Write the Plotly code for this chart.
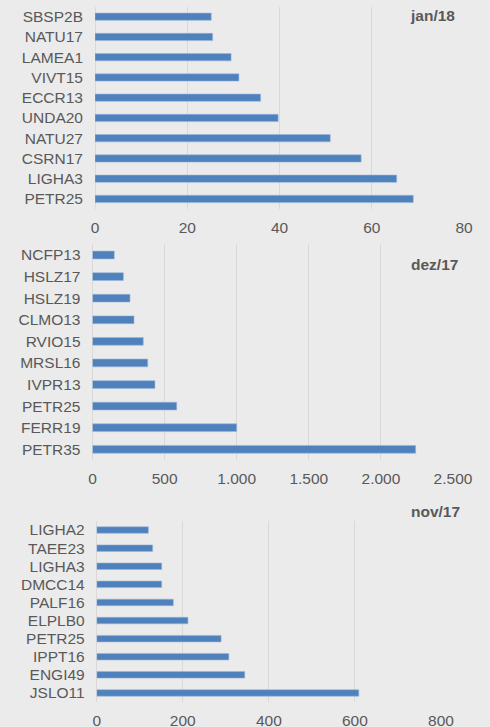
import plotly.graph_objects as go

# Data (bottom-to-top order as drawn)
jan18_names = ["PETR25", "LIGHA3", "CSRN17", "NATU27", "UNDA20", "ECCR13", "VIVT15", "LAMEA1", "NATU17", "SBSP2B"]
jan18_values = [69.0, 65.4, 57.7, 51.0, 39.7, 35.9, 31.2, 29.5, 25.5, 25.2]

dez17_names = ["PETR35", "FERR19", "PETR25", "IVPR13", "MRSL16", "RVIO15", "CLMO13", "HSLZ19", "HSLZ17", "NCFP13"]
dez17_values = [2241, 1000, 584, 433, 383, 352, 288, 260, 214, 151]

nov17_names = ["JSLO11", "ENGI49", "IPPT16", "PETR25", "ELPLB0", "PALF16", "DMCC14", "LIGHA3", "TAEE23", "LIGHA2"]
nov17_values = [609, 344, 307, 289, 212, 178, 151, 151, 130, 120]

titles = ["jan/18", "dez/17", "nov/17"]
x_ranges = [[0, 80], [0, 2500], [0, 800]]
x_dtick = [20, 500, 200]

BAR = "#4f81bd"
TXT = "#595959"
GRID = "#d9d9d9"
BG = "#ebebeb"
FONT = "Liberation Sans, Arial, sans-serif"
FS = 15.5

W, H = 490, 727
# pixel boxes: (left, right, top, bottom)
boxes = [(95, 464, 6.6, 209.1), (92.5, 453, 244.2, 460.1), (96.7, 441, 521, 702)]
title_pos = [(457, 15.7), (460, 264), (461.7, 511.7)]

fig = go.Figure()
series = [(jan18_names, jan18_values), (dez17_names, dez17_values), (nov17_names, nov17_values)]
for i, (names, vals) in enumerate(series):
    sfx = "" if i == 0 else str(i + 1)
    fig.add_trace(go.Bar(
        x=vals, y=names, orientation="h", width=0.36,
        marker=dict(color=BAR, line=dict(color="#9ab6da", width=0.6)),
        xaxis="x" + sfx, yaxis="y" + sfx, showlegend=False,
    ))
    l, r, t, b = boxes[i]
    fig.layout["xaxis" + sfx] = dict(
        domain=[l / W, r / W], range=x_ranges[i], dtick=x_dtick[i], tick0=0,
        anchor="y" + sfx, showgrid=True, gridcolor=GRID, gridwidth=1.3,
        zeroline=True, zerolinecolor=GRID, zerolinewidth=1.3,
        showline=False, ticks="", tickfont=dict(family=FONT, size=FS, color=TXT),
        tickformat=",d", ticklabelstandoff=7, fixedrange=True, automargin=False,
    )
    fig.layout["yaxis" + sfx] = dict(
        domain=[1 - b / H, 1 - t / H], anchor="x" + sfx, type="category",
        range=[-0.5, 9.5], dtick=1, showgrid=False, zeroline=False, showline=False, ticks="",
        tickfont=dict(family=FONT, size=FS, color=TXT), ticklabelstandoff=11,
        automargin=False, fixedrange=True,
    )
    tx, ty = title_pos[i]
    fig.add_annotation(
        x=tx / W, y=1 - ty / H, xref="paper", yref="paper", xanchor="right", yanchor="middle",
        text="<b>" + titles[i] + "</b>", showarrow=False,
        font=dict(family=FONT, size=FS, color=TXT),
    )

fig.update_layout(
    width=W, height=H, margin=dict(l=0, r=0, t=0, b=0),
    paper_bgcolor=BG, plot_bgcolor=BG, separators=",.", bargap=0.64,
)
fig.write_html(
    "out.html",
    config={"displayModeBar": False},
    post_script="document.body.style.margin='0';document.body.style.overflow='hidden';",
)
